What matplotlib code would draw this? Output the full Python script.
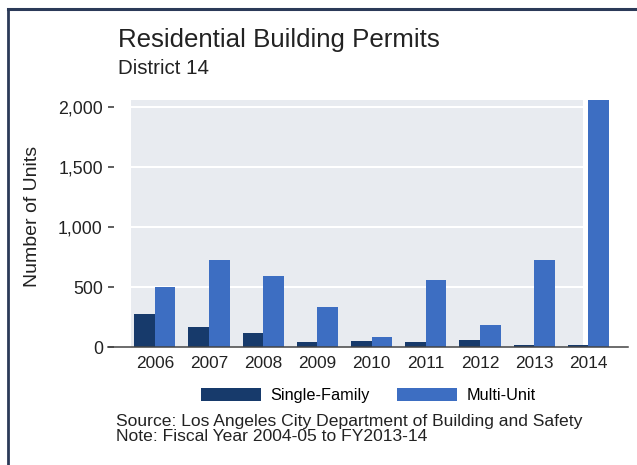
import numpy as np
import matplotlib
matplotlib.use("Agg")
import matplotlib.pyplot as plt
from matplotlib.lines import Line2D

plt.rcParams['font.family'] = ['Liberation Sans', 'DejaVu Sans']

# data
years = ['2006', '2007', '2008', '2009', '2010', '2011', '2012', '2013', '2014']
single_family = [278, 167, 117, 44, 50, 42, 61, 17, 19]
multi_unit = [500, 728, 594, 339, 89, 561, 186, 728, 2061]
y_ticks = [0, 500, 1000, 1500, 2000]
y_tick_labels = ['0', '500', '1,000', '1,500', '2,000']

c_single = '#173a6b'
c_multi = '#3d6ec2'
c_bg = '#e8ebf0'
c_frame = '#2b3a58'

fig = plt.figure(figsize=(6.37, 4.65), dpi=100)
ax = fig.add_axes([131/637, 0.2531, 497/637, 0.5329])
ax.set_facecolor('white')

# spine position first - moving it resets the ticks
ax.spines['left'].set_position(('outward', 12.2))
ax.spines['left'].set_visible(False)
ax.spines['top'].set_visible(False)
ax.spines['right'].set_visible(False)

x = np.arange(len(years))
w = 0.38
xmin, xmax = -0.44, 8.73

# shaded plot area (stops short of the last group like the original)
ax.axvspan(xmin, 7.9, color=c_bg, zorder=0, lw=0)
for t in y_ticks[1:]:
    ax.axhline(t, xmin=0, xmax=(7.9 - xmin) / (xmax - xmin), color='white', lw=1.5, zorder=1)

ax.bar(x - w/2, single_family, width=w, color=c_single, label='Single-Family', zorder=2)
ax.bar(x + w/2, multi_unit, width=w, color=c_multi, label='Multi-Unit', zorder=2)

ax.set_xlim(xmin, xmax)
ax.set_ylim(0, 2065)

ax.set_xticks(x)
ax.set_xticklabels(years, fontsize=12.4)
ax.tick_params(axis='x', length=0, pad=6.3, colors='#222222')

ax.set_yticks(y_ticks)
ax.set_yticklabels(y_tick_labels, fontsize=12.8)
ax.tick_params(axis='y', length=4.3, width=1.1, pad=3.8, colors='#333333', labelcolor='#222222')
ax.spines['bottom'].set_color('#444444')
ax.spines['bottom'].set_linewidth(1.1)
ax.spines['bottom'].set_bounds(-0.86, xmax)

ax.set_ylabel('Number of Units', fontsize=14, color='#222222')
ax.yaxis.set_label_coords(41/637, 1 - 216/465, transform=fig.transFigure)

fig.text(118/637, 1 - 46.7/465, 'Residential Building Permits', fontsize=18.6,
         color='#222222', va='baseline', ha='left')
fig.text(118/637, 1 - 74.4/465, 'District 14', fontsize=14.8,
         color='#222222', va='baseline', ha='left')

fig.legend(loc='center', bbox_to_anchor=(0.5785, 0.1495), ncol=2, frameon=False,
           fontsize=11.7, handlelength=3.7, handleheight=0.86,
           handletextpad=0.58, columnspacing=1.68)

fig.text(116/637, 1 - 425.5/465, 'Source: Los Angeles City Department of Building and Safety',
         fontsize=12.6, color='#222222', va='baseline', ha='left')
fig.text(116/637, 1 - 441/465, 'Note: Fiscal Year 2004-05 to FY2013-14',
         fontsize=12.6, color='#222222', va='baseline', ha='left')

# frame lines (top and left only)
fig.add_artist(Line2D([8.3/637, 1], [1 - 9.5/465, 1 - 9.5/465], transform=fig.transFigure,
                      color=c_frame, lw=2.2))
fig.add_artist(Line2D([8.3/637, 8.3/637], [0, 1 - 9.5/465], transform=fig.transFigure,
                      color=c_frame, lw=2.0))

fig.savefig('out.png', dpi=100)
